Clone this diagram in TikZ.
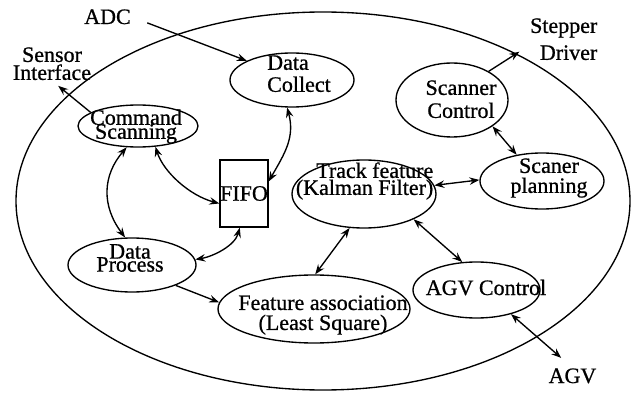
\documentclass[tikz,border=0pt]{standalone}
\usepackage{fontspec}
\setmainfont{Liberation Serif}[FakeBold=0.8]
\usetikzlibrary{shapes.geometric, arrows.meta, calc}
\begin{document}
\begin{tikzpicture}[x=1pt, y=-1pt, line width=1.35pt,
  proc/.style={draw, ellipse, inner sep=0pt},
  lbl/.style={font=\fontsize{22}{22}\selectfont, inner sep=0pt, align=center},
  word/.style={font=\fontsize{22}{22}\selectfont, inner sep=0pt},
  >={Stealth[length=10pt, width=7.5pt, inset=3.5pt]}]
\useasboundingbox (0,0) rectangle (632,393);

% system boundary
\node[draw, ellipse, minimum width=614pt, minimum height=378pt, inner sep=0pt] (sys) at (323,201) {};

% processes
\node[proc, minimum width=124pt, minimum height=54pt] (dc) at (292,80) {};
\node[proc, minimum width=120pt, minimum height=42pt] (cs) at (138,126) {};
\node[proc, minimum width=128pt, minimum height=54pt] (dp) at (132,265) {};
\node[proc, minimum width=144pt, minimum height=68pt] (tf) at (364,194) {};
\node[proc, minimum width=192pt, minimum height=68pt] (fa) at (314,309) {};
\node[proc, minimum width=112pt, minimum height=74pt] (sc) at (452,100) {};
\node[proc, minimum width=124pt, minimum height=56pt] (sp) at (542,181) {};
\node[proc, minimum width=127pt, minimum height=56pt] (ac) at (476.5,290) {};
\node[draw, rectangle, minimum width=48pt, minimum height=67pt, inner sep=0pt,
      font=\fontsize{22}{22}\selectfont] (fifo) at (244,193.5) {FIFO};

% process names
\node[lbl, align=left] (dc-t) at (299,73.7) {Data\\Collect};
\node[lbl] (cs-t) at (136,126.5) {Command\\[-8pt]Scanning};
\node[lbl] (dp-t) at (130,258) {Data\\[-9pt]Process};
\node[lbl, anchor=east, align=right] (tf-t) at (434,181) {Track feature\\[-5pt](Kalman Filter)};
\node[lbl] (fa-t) at (323,315) {Feature association\\[-2pt](Least Square)};
\node[lbl] (sc-t) at (461,99.2) {Scanner\\[1pt]Control};
\node[lbl] (sp-t) at (549,178) {Scaner\\[-2pt]planning};
\node[word, anchor=base] (ac-t) at (486,295) {AGV Control};

% external interfaces
\node[word, anchor=base] (adc) at (107.5,24) {ADC};
\node[lbl] (si) at (52,63.7) {Sensor\\[-4pt]Interface};
\node[lbl, anchor=east, align=right] (sd) at (598,39.2) {Stepper\\[5pt]Driver};
\node[word, anchor=base] (agv) at (572.5,383) {AGV};

% data flows
\draw[->, shorten <=17pt] (adc.east) -- (dc.157);
\draw[->, shorten >=8pt] (cs.164) -- (si.south);
\draw[<->] (dc.-100) .. controls ($(dc.-100)+(8,30)$) and ($(fifo.26)+(16,-28)$) .. (fifo.26);
\draw[<->] (cs.-50) .. controls ($(cs.-50)+(8,25)$) and ($(fifo.202)+(-30,-8)$) .. (fifo.202);
\draw[<->] (cs.-118) .. controls ($(cs.-118)+(-24,28)$) and ($(dp.104)+(-24,-32)$) .. (dp.104);
\draw[<->] (dp.5) .. controls ($(dp.5)+(18,-3)$) and ($(fifo.-97)+(-5,18)$) .. (fifo.-97);
\draw[->] (dp.-25) -- (fa.176);
\draw[<->] (tf.-113) -- (fa.88);
\draw[<->] (tf.-27) -- (ac.117);
\draw[<->] (tf.7) -- (sp.179);
\draw[<->] (sc.-33) -- (sp.134);
\draw[->, shorten >=12pt] (sc.38) -- (sd.190);
\draw[<->, shorten >=15pt] (ac.-35) -- (agv.north);
\end{tikzpicture}
\end{document}
